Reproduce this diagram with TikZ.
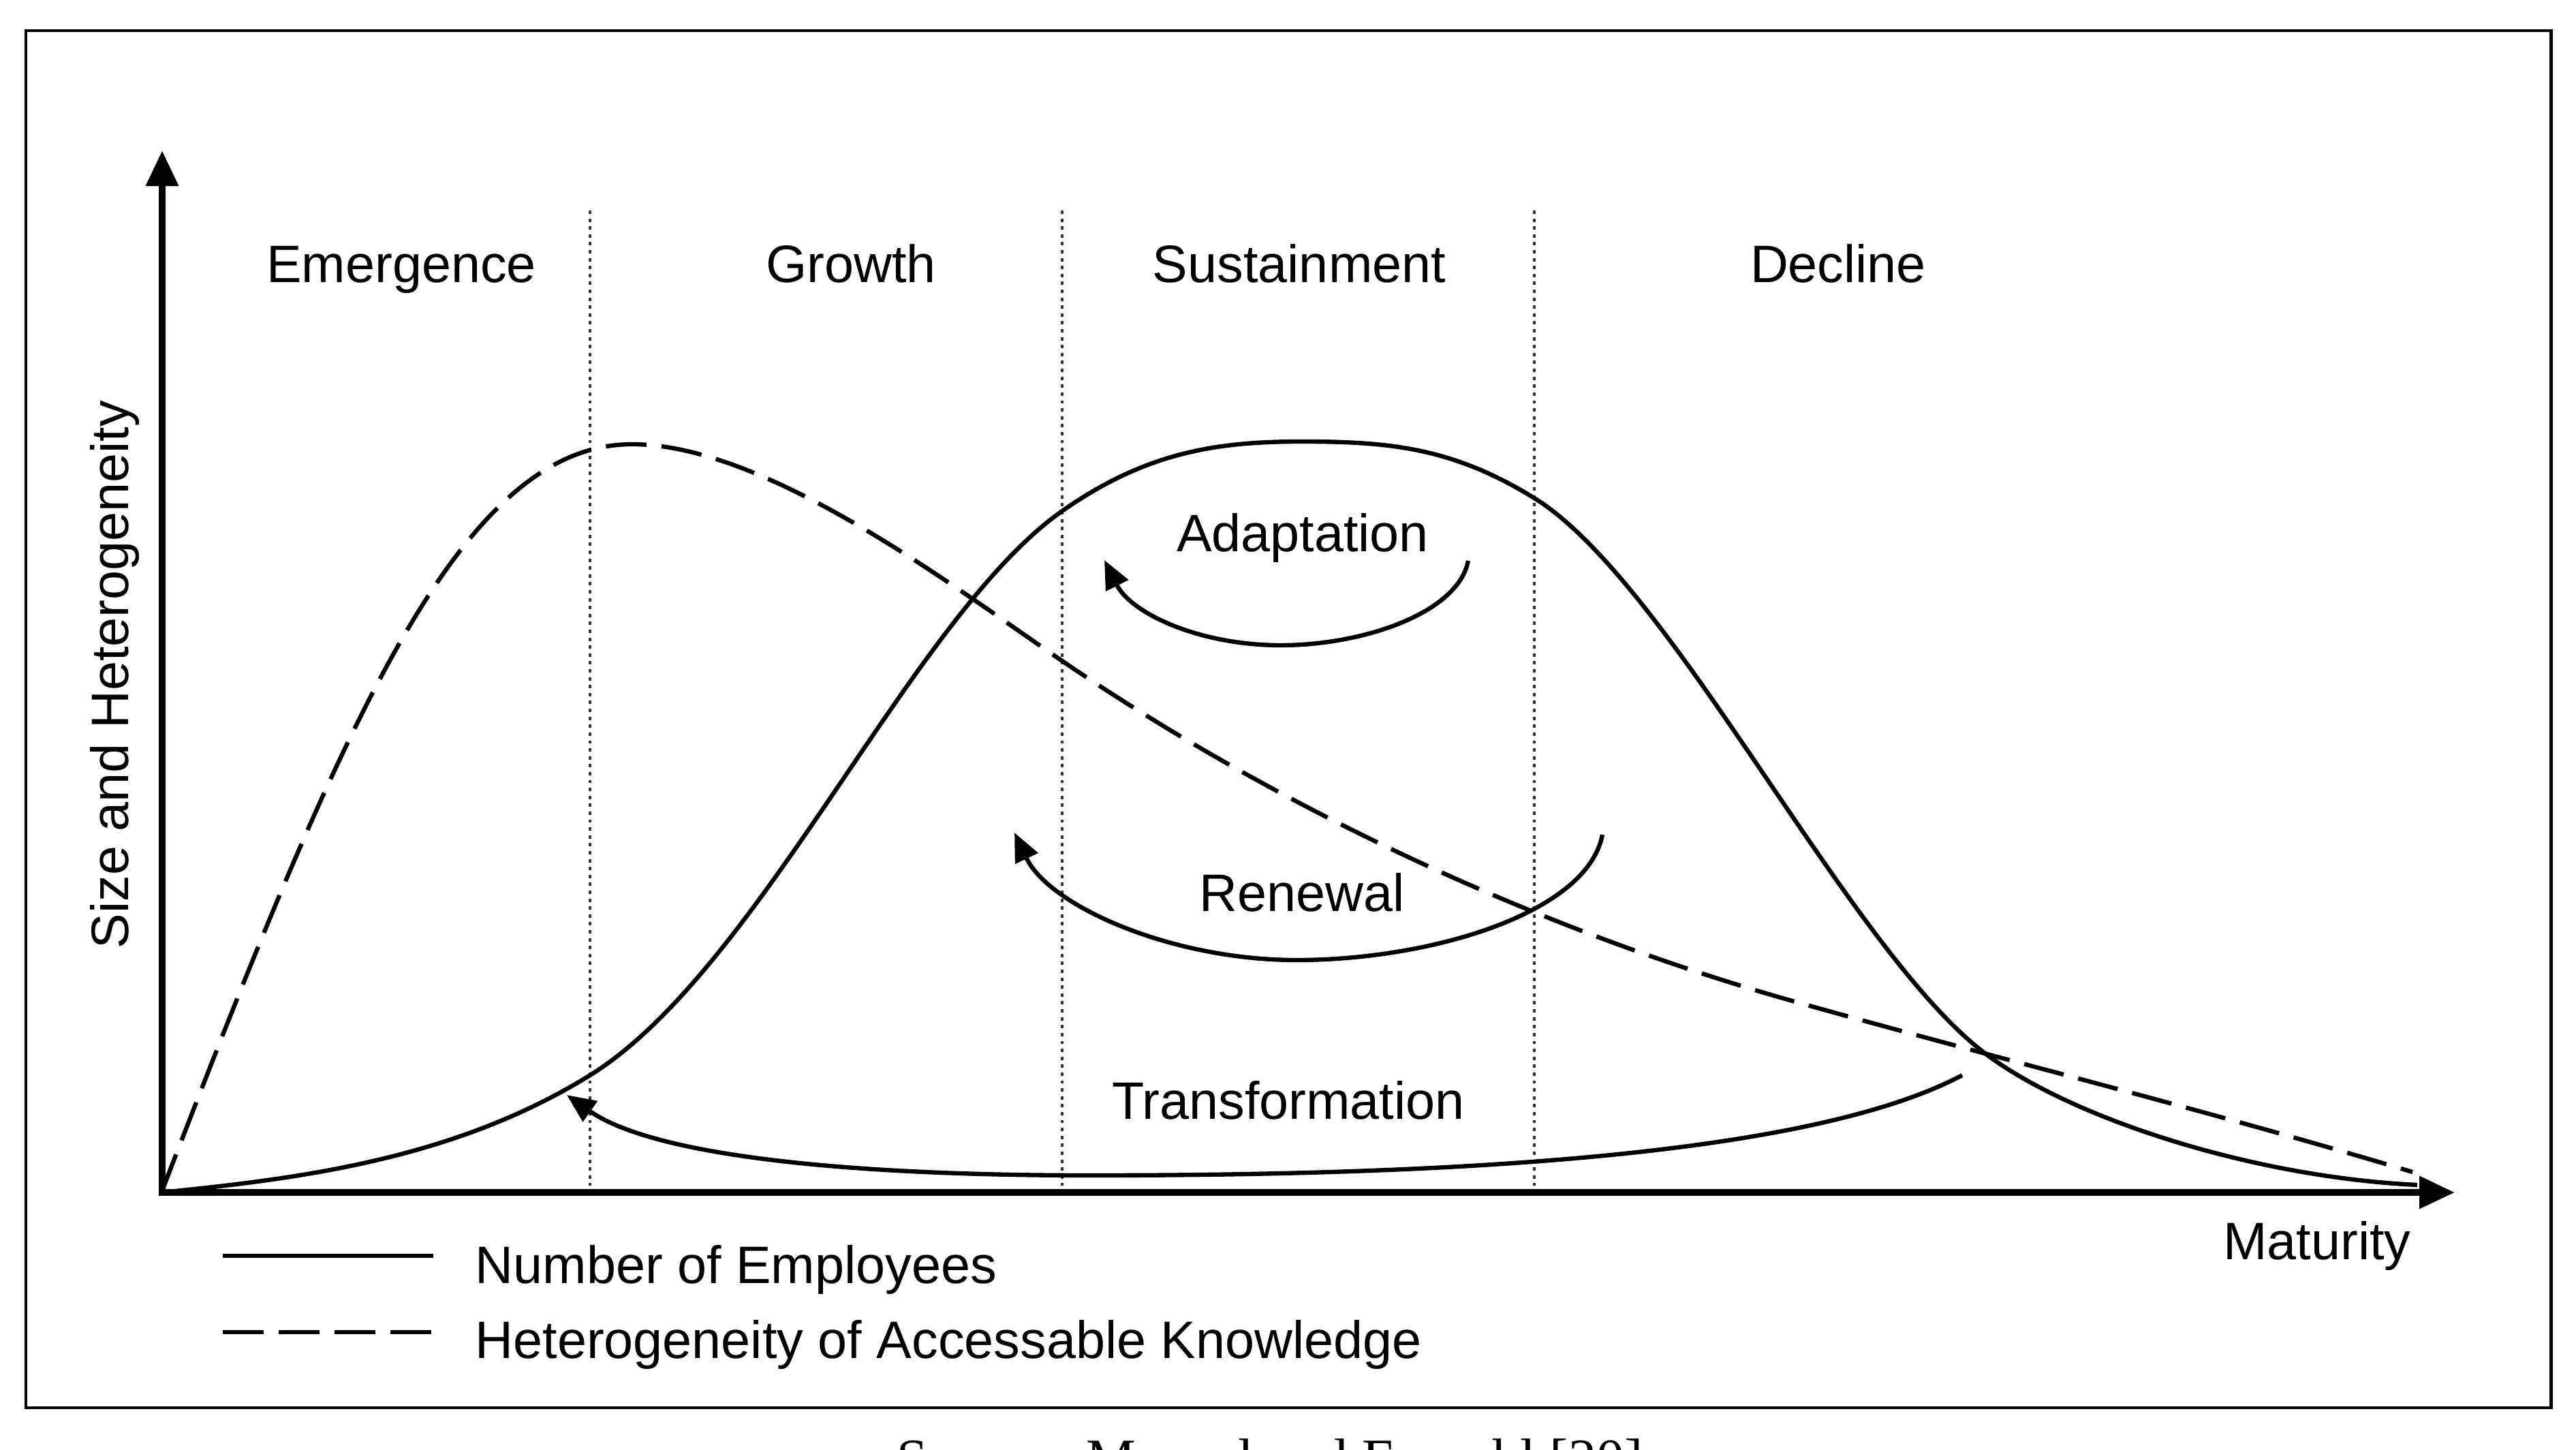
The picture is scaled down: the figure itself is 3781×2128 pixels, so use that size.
\documentclass[tikz,border=0pt]{standalone}
\usepackage{fontspec}
\setmainfont{Liberation Sans}
\newfontfamily\capfont{Liberation Serif}
\usetikzlibrary{arrows.meta}
\begin{document}
\begin{tikzpicture}[x=0.01cm,y=-0.01cm,
  lbl/.style={font=\fontsize{22}{26}\selectfont, inner sep=0pt, anchor=base},
  curve/.style={line width=1.8pt, line join=round},
  dashedcurve/.style={curve, dash pattern=on 17pt off 6.3pt},
  divider/.style={line width=1.1pt, black!80, dash pattern=on 1.4pt off 1.9pt},
  axisline/.style={line width=2.8pt, line join=miter,
    {Triangle[length=5.2mm,width=4.6mm]}-{Triangle[length=5.2mm,width=4.6mm]}},
  cyc/.style={curve, -{Triangle[length=4.2mm,width=3.6mm]}},
]
\useasboundingbox (0,0) rectangle (3781,2128);
\fill[white] (0,0) rectangle (3781,2128);
% frame
\draw[line width=1.4pt] (38,45) rectangle (3744,2066);

% axes
\coordinate (O) at (238,1750);
\coordinate (ytip) at (238,221);
\coordinate (xtip) at (3603,1750);
\draw[axisline] (ytip) -- (O) -- (xtip);

% phase dividers
\foreach \xx/\nm in {866/d1,1559/d2,2252/d3}{
  \coordinate (\nm top) at (\xx,309);
  \coordinate (\nm bot) at (\xx,1740);
  \draw[divider] (\nm top) -- (\nm bot);
}

% phase labels
\node[lbl] (emergence) at (589,415) {Emergence};
\node[lbl] (growth) at (1249,415) {Growth};
\node[lbl] (sustainment) at (1907,415) {Sustainment};
\node[lbl] (decline) at (2698,415) {Decline};

% axis labels
\node[lbl, rotate=90] (ylabel) at (188,990) {Size and Heterogeneity};
\node[lbl] (maturity) at (3401,1848) {Maturity};

% number of employees
\draw[curve] (237,1750)
  .. controls (437,1730) and (666,1702) .. (866,1578)
  .. controls (1116,1423) and (1339,904) .. (1559,750)
  .. controls (1679,666) and (1780,648) .. (1910,648)
  .. controls (2040,648) and (2132,657) .. (2252,731)
  .. controls (2452,855) and (2706,1380) .. (2906,1540)
  .. controls (3026,1636) and (3298,1727) .. (3548,1739);

% heterogeneity of accessable knowledge
\draw[dashedcurve] (237,1750)
  .. controls (507,1048) and (678,652) .. (928,652)
  .. controls (1128,652) and (1409,868) .. (1559,970)
  .. controls (1859,1174) and (2238,1359) .. (2638,1471)
  .. controls (2938,1555) and (3241,1630) .. (3541,1720);

% cycles
\draw[cyc] (2155,823)
  .. controls (2140,900) and (2000,947) .. (1880,947)
  .. controls (1760,947) and (1660,900) .. (1621,822);
\node[lbl] (adaptation) at (1912,810) {Adaptation};

\draw[cyc] (2352,1225)
  .. controls (2330,1340) and (2100,1409) .. (1903,1409)
  .. controls (1720,1409) and (1540,1330) .. (1489,1222);
\node[lbl] (renewal) at (1911,1337) {Renewal};

\draw[cyc] (2880,1578)
  .. controls (2650,1700) and (2100,1725) .. (1600,1725)
  .. controls (1200,1725) and (950,1690) .. (832,1607);
\node[lbl] (transformation) at (1891,1642) {Transformation};

% legend
\coordinate (l1a) at (327,1843);
\coordinate (l1b) at (636,1843);
\coordinate (l2a) at (327,1955);
\coordinate (l2b) at (636,1955);
\draw[curve] (l1a) -- (l1b);
\draw[curve, dash pattern=on 17pt off 6.3pt] (l2a) -- (l2b);
\node[lbl, anchor=base west] (leg1) at (697,1883) {Number of Employees};
\node[lbl, anchor=base west] (leg2) at (697,1993) {Heterogeneity of Accessable Knowledge};

% source caption (cut off by the page edge, as in the original)
\node[anchor=base, inner sep=0pt, font=\capfont\fontsize{23.3}{28}\selectfont] (source) at (1864,2168) {Source: Menzel and Fornahl [20]};
\end{tikzpicture}
\end{document}
